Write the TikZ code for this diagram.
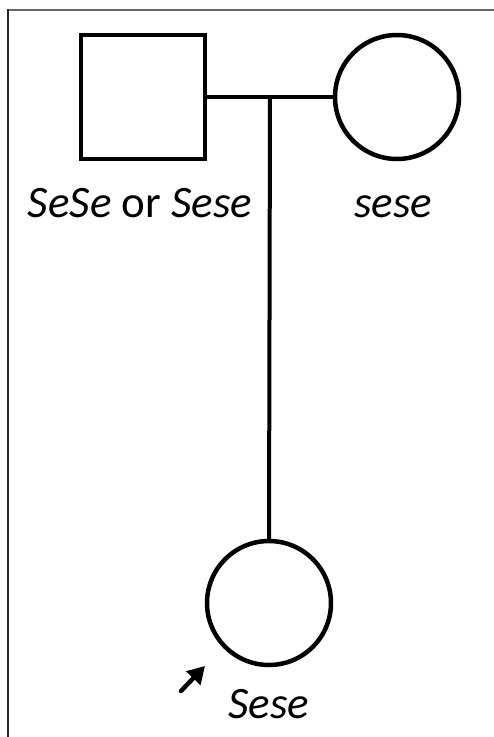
\documentclass[tikz,border=0pt]{standalone}
\usepackage{fontspec}
\setmainfont{Carlito}
\usetikzlibrary{arrows.meta}
\begin{document}
\begin{tikzpicture}[x=1pt,y=-1pt,
  sym/.style={draw=black,line width=4.5pt,fill=white,inner sep=0pt,outer sep=0pt},
  lab/.style={anchor=base,inner sep=0pt,font=\fontsize{45}{48}\selectfont},
  conn/.style={line width=4pt}]
\useasboundingbox (0,0) rectangle (494,737);
\fill[white] (0,0) rectangle (494,737);
\draw[line width=2pt,black!60] (7.5,9.5) -- (494,9.5);
\draw[line width=2pt,black!85] (7.5,737) -- (7.5,9);
\node[sym,rectangle,minimum width=124pt,minimum height=124pt] (father) at (143,97) {};
\node[sym,circle,minimum size=124pt] (mother) at (397,97) {};
\node[sym,circle,minimum size=124pt] (child) at (269,603) {};
\coordinate (mid) at (270,97);
\draw[conn] (father.east) -- (mother.west);
\draw[conn] (mid) -- (child.north);
\node[lab] (lf) at (140,217) {\textit{SeSe} or \textit{Sese}};
\node[lab] (lm) at (393,217) {\textit{sese}};
\node[lab] (lc) at (269,718) {\textit{Sese}};
\coordinate (atail) at (181,691);
\coordinate (atip) at (205,666);
\draw[line width=4.5pt,line cap=round,-{Triangle[length=17pt,width=19pt]}] (atail) -- (atip);
\end{tikzpicture}
\end{document}
